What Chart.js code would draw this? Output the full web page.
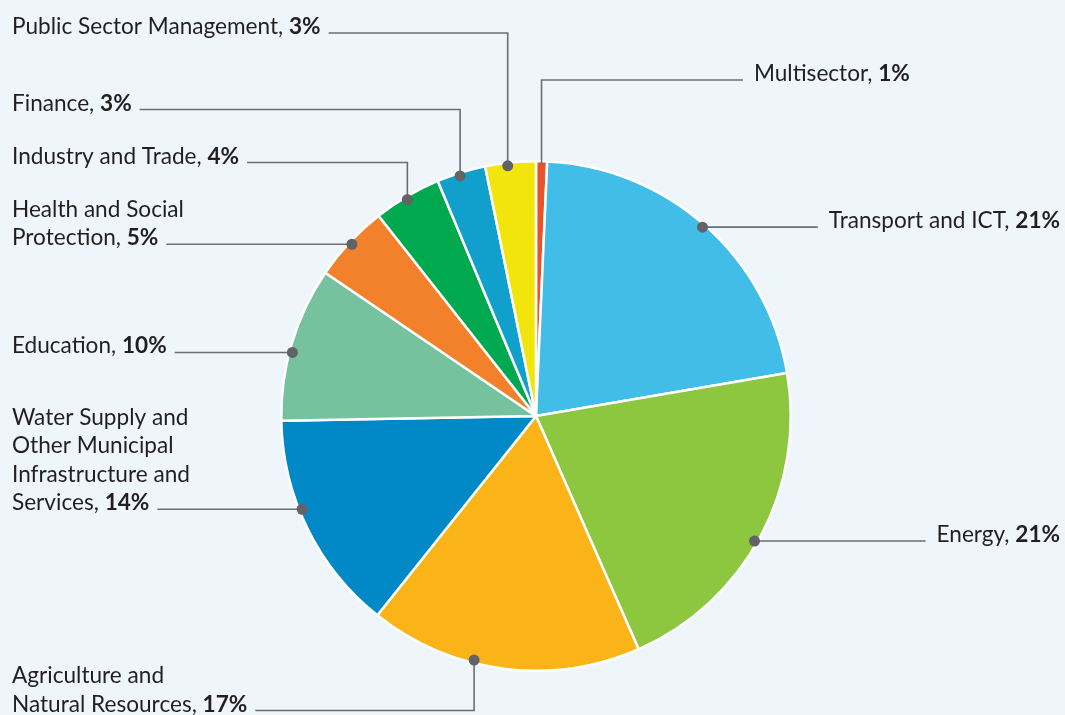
<!DOCTYPE html>
<html>
<head>
<meta charset="utf-8">
<script src="https://cdn.jsdelivr.net/npm/chart.js@4.4.1/dist/chart.umd.min.js"></script>
<style>
  html, body { margin: 0; padding: 0; background: #EEF5FB; }
  #wrap { width: 1065px; height: 715px; position: relative; }
  canvas { display: block; }
</style>
</head>
<body>
<div id="wrap"><canvas id="c" width="1065" height="715"></canvas></div>
<script>
// ---- data ----
const categories = [
  'Multisector', 'Transport and ICT', 'Energy', 'Agriculture and Natural Resources',
  'Water Supply and Other Municipal Infrastructure and Services', 'Education',
  'Health and Social Protection', 'Industry and Trade', 'Finance', 'Public Sector Management'
];
const shares = [0.7, 21.6, 21.1, 17.3, 14.0, 9.8, 4.9, 4.3, 3.1, 3.2];
const pctLabels = ['1%', '21%', '21%', '17%', '14%', '10%', '5%', '4%', '3%', '3%'];
const labelLines = [
  ['Multisector,'],
  ['Transport and ICT,'],
  ['Energy,'],
  ['Agriculture and', 'Natural Resources,'],
  ['Water Supply and', 'Other Municipal', 'Infrastructure and', 'Services,'],
  ['Education,'],
  ['Health and Social', 'Protection,'],
  ['Industry and Trade,'],
  ['Finance,'],
  ['Public Sector Management,']
];
const sliceColors = ['#E8532B', '#41BDE8', '#8DC63F', '#FAB418', '#0089C6',
                     '#76C19E', '#F3812C', '#00A94F', '#11A0CB', '#F1E50B'];

// ---- label layout (positions / styles only) ----
const labelLayout = [
  { t: 0.5,  type: 'v', labelY: 80,    align: 'left',  x: 754,  noDot: true },
  { t: 0.5,  type: 'h', align: 'right', x: 1060 },
  { t: 0.52, type: 'h', align: 'right', x: 1060 },
  { t: 0.61, type: 'v', labelY: 710.5, align: 'left',  x: 12 },
  { t: 0.59, type: 'h', align: 'left',  x: 12 },
  { t: 0.445,type: 'h', align: 'left',  x: 12 },
  { t: 0.5,  type: 'h', align: 'left',  x: 12 },
  { t: 0.48, type: 'v', labelY: 162.5, align: 'left',  x: 12 },
  { t: 0.46, type: 'v', labelY: 109.5, align: 'left',  x: 12 },
  { t: 0.44, type: 'v', labelY: 33,    align: 'left',  x: 12 }
];

const FONT_FAMILY = 'Lato, "Open Sans", sans-serif';
const FONT_SIZE = 22.6;
const LINE_H = 28.4;

const leaderPlugin = {
  id: 'leaders',
  afterDatasetsDraw(chart) {
    const ctx = chart.ctx;
    const meta = chart.getDatasetMeta(0);
    ctx.save();
    meta.data.forEach((arc, i) => {
      const L = labelLayout[i];
      const p = arc.getProps(['x', 'y', 'startAngle', 'endAngle', 'outerRadius'], true);
      const a = p.startAngle + L.t * (p.endAngle - p.startAngle);
      const r = p.outerRadius - 3;
      const dx = p.x + r * Math.cos(a);
      const dy = p.y + r * Math.sin(a);

      const lines = labelLines[i];
      const normalFont = FONT_SIZE + 'px ' + FONT_FAMILY;
      const boldFont = 'bold ' + FONT_SIZE + 'px ' + FONT_FAMILY;
      const lastY = (L.type === 'h') ? dy : L.labelY;
      const n = lines.length;

      ctx.font = normalFont;
      const lastW = ctx.measureText(lines[n - 1] + ' ').width;
      ctx.font = boldFont;
      const pctW = ctx.measureText(pctLabels[i]).width;
      const totalLast = lastW + pctW;

      let textLeft, textRight;
      if (L.align === 'left') { textLeft = L.x; textRight = L.x + totalLast; }
      else { textRight = L.x; textLeft = L.x - totalLast; }

      ctx.strokeStyle = '#6D6E71';
      ctx.lineWidth = 1.6;
      ctx.beginPath();
      const endX = (textLeft > dx) ? textLeft - 11 : textRight + 8;
      if (L.type === 'h') {
        ctx.moveTo(dx, dy);
        ctx.lineTo(endX, dy);
      } else {
        ctx.moveTo(dx, dy);
        ctx.lineTo(dx, lastY);
        ctx.lineTo(endX, lastY);
      }
      ctx.stroke();

      if (!L.noDot) {
        ctx.fillStyle = '#626366';
        ctx.beginPath();
        ctx.arc(dx, dy, 5.5, 0, Math.PI * 2);
        ctx.fill();
      }

      ctx.fillStyle = '#231F20';
      ctx.textBaseline = 'alphabetic';
      ctx.textAlign = 'left';
      for (let k = 0; k < n; k++) {
        const by = lastY + 1 - (n - 1 - k) * LINE_H;
        if (k < n - 1) {
          ctx.font = normalFont;
          ctx.fillText(lines[k], textLeft, by);
        } else {
          ctx.font = normalFont;
          ctx.fillText(lines[k] + ' ', textLeft, by);
          ctx.font = boldFont;
          ctx.fillText(pctLabels[i], textLeft + lastW, by);
        }
      }
    });
    ctx.restore();
  }
};

new Chart(document.getElementById('c'), {
  type: 'pie',
  data: {
    labels: categories,
    datasets: [{
      data: shares,
      backgroundColor: sliceColors,
      borderColor: '#FFFFFF',
      borderWidth: 2.5
    }]
  },
  options: {
    responsive: false,
    animation: false,
    layout: { padding: { left: 7, right: 0, top: 160, bottom: 43 } },
    plugins: {
      legend: { display: false },
      tooltip: { enabled: false }
    }
  },
  plugins: [leaderPlugin]
});
</script>
</body>
</html>
